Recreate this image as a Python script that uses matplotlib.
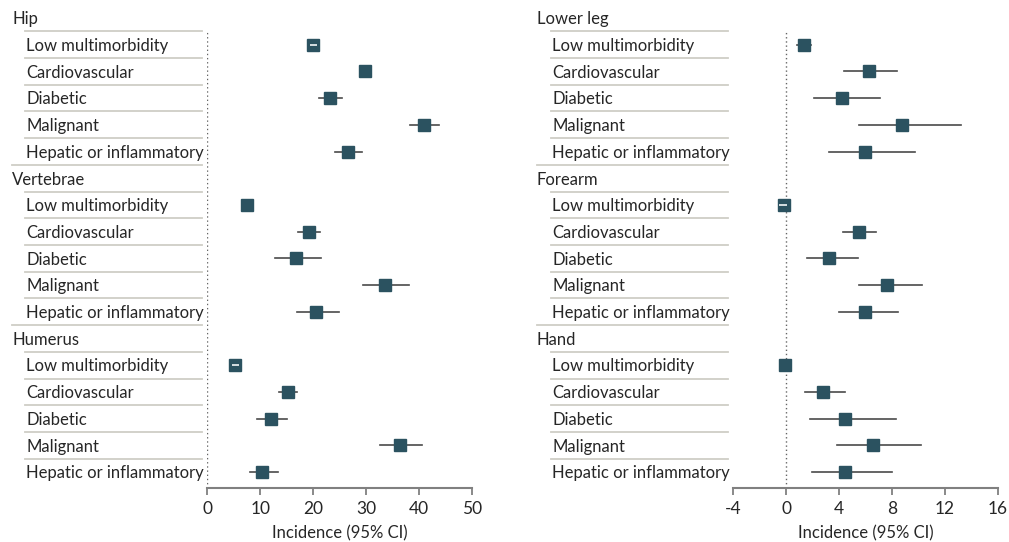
import numpy as np
import matplotlib.pyplot as plt
from matplotlib.transforms import blended_transform_factory

plt.rcParams['font.family'] = ['Lato', 'DejaVu Sans']

# ---- datos ----
subgroups = ['Low multimorbidity', 'Cardiovascular', 'Diabetic', 'Malignant',
             'Hepatic or inflammatory']

left_sites = ['Hip', 'Vertebrae', 'Humerus']
left_est = [[20.0, 29.8, 23.2, 40.9, 26.6],
            [7.4, 19.1, 16.8, 33.6, 20.5],
            [5.3, 15.3, 12.1, 36.4, 10.4]]
left_lo = [[19.3, 28.8, 21.1, 38.2, 24.0],
           [6.5, 17.1, 12.8, 29.3, 16.9],
           [4.6, 13.5, 9.4, 32.6, 8.1]]
left_hi = [[20.7, 30.9, 25.5, 43.7, 29.2],
           [8.5, 21.3, 21.4, 38.1, 24.8],
           [6.0, 17.0, 15.0, 40.5, 13.3]]

right_sites = ['Lower leg', 'Forearm', 'Hand']
right_est = [[1.31, 6.22, 4.18, 8.72, 5.92],
             [-0.2, 5.47, 3.2, 7.58, 5.92],
             [-0.12, 2.75, 4.41, 6.53, 4.41]]
right_lo = [[0.81, 4.33, 2.06, 5.47, 3.25],
            [-0.55, 4.26, 1.56, 5.47, 3.95],
            [-0.2, 1.39, 1.79, 3.83, 1.91]]
right_hi = [[1.89, 8.36, 7.10, 13.2, 9.73],
            [0.05, 6.78, 5.44, 10.23, 8.41],
            [-0.05, 4.43, 8.31, 10.15, 7.99]]

left_ticks = [0, 10, 20, 30, 40, 50]
right_ticks = [-4, 0, 4, 8, 12, 16]

W, H = 1009, 542
MARKER = '#2b5260'
TEXT = '#262626'
SEP = '#cfcec6'
FS = 12


def panel(fig, x0, x1, xlim, ticks, sites, est, lo, hi, lab_x, sub_x, line_x):
    y_top, y_bot = 31.35, 488
    ax = fig.add_axes([x0 / W, 1 - y_bot / H, (x1 - x0) / W, (y_bot - y_top) / H])
    ax.set_xlim(*xlim)
    ax.set_ylim(17.6, 0.5)
    nrows = len(sites) * (len(subgroups) + 1)

    trans = blended_transform_factory(ax.transAxes, ax.transData)

    def px(x):
        return (x - x0) / (x1 - x0)

    row = 0
    for s, site in enumerate(sites):
        ax.text(px(lab_x), row + 0.05, site, transform=trans, va='center', ha='left',
                fontsize=FS, color=TEXT, clip_on=False)
        row += 1
        for g, name in enumerate(subgroups):
            ax.text(px(sub_x), row + 0.05, name, transform=trans, va='center', ha='left',
                    fontsize=FS, color=TEXT, clip_on=False)
            e, l, h = est[s][g], lo[s][g], hi[s][g]
            ax.plot([l, h], [row, row], color='#4a4a4a', lw=1.2, zorder=2)
            ax.plot(e, row, marker='s', ms=8.2, color=MARKER, mec=MARKER, zorder=3)
            if (h - l) < 0.04 * (xlim[1] - xlim[0]) and (h - l) > 0.01 * (xlim[1] - xlim[0]):
                ax.plot([l, h], [row, row], color='#e4e9eb', lw=1.3, zorder=4,
                        solid_capstyle='butt')
            row += 1

    # lineas separadoras
    for k in range(nrows - 1):
        full = (k + 1) % (len(subgroups) + 1) == 0
        start = lab_x if full else sub_x - 1
        ax.plot([px(start), px(line_x)], [k + 0.5, k + 0.5], transform=trans,
                color=SEP, lw=1.3, clip_on=False)

    ax.axvline(0, color='#666666', lw=1, ls=(0, (1, 2)), zorder=1)

    for sp in ['top', 'right', 'left']:
        ax.spines[sp].set_visible(False)
    ax.spines['bottom'].set_color('#808080')
    ax.spines['bottom'].set_linewidth(1.5)
    ax.set_yticks([])
    ax.set_xticks(ticks)
    ax.set_xticklabels([str(t) for t in ticks])
    ax.tick_params(axis='x', length=5, width=1.3, color='#808080', labelsize=12.5,
                   labelcolor=TEXT, pad=4)
    ax.set_xlabel('Incidence (95% CI)', fontsize=12, color=TEXT, labelpad=6)
    return ax


fig = plt.figure(figsize=(W / 100, H / 100), dpi=100)
panel(fig, 207.3, 472.3, (0, 50), left_ticks, left_sites, left_est, left_lo, left_hi,
      12, 26, 202)
panel(fig, 733.3, 998, (-4, 16), right_ticks, right_sites, right_est, right_lo, right_hi,
      537, 552, 728)

fig.savefig('out.png', dpi=100)
